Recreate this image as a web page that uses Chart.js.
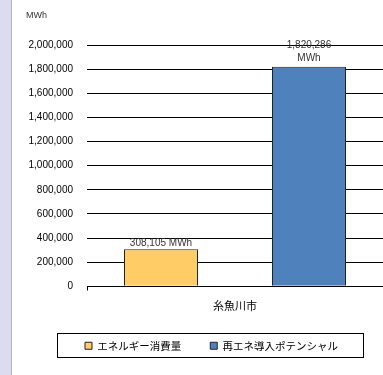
<!DOCTYPE html>
<html>
<head>
<meta charset="utf-8">
<script src="https://cdn.jsdelivr.net/npm/chart.js@4.4.1/dist/chart.umd.min.js"></script>
<style>
    html, body { margin: 0; padding: 0; }
    body {
        width: 383px; height: 375px; overflow: hidden;
        background: linear-gradient(to right, #dcdcf0 0px, #dcdcf0 11px, #b4b4c8 11px, #b4b4c8 12px, #ffffff 12px);
    }
    #wrap { position: absolute; left: 0; top: 0; width: 383px; height: 375px; }
</style>
</head>
<body>
<div id="wrap"><canvas id="myChart" width="383" height="375"></canvas></div>
<script>
const categories = ['糸魚川市'];
const seriesNames = ['エネルギー消費量', '再エネ導入ポテンシャル'];
const energyUse = [308105];
const renewablePotential = [1820286];
const yTicks = [0, 200000, 400000, 600000, 800000, 1000000, 1200000, 1400000, 1600000, 1800000, 2000000];

const font = '"Liberation Sans", "Noto Sans CJK JP", sans-serif';
const jpFont = '"Noto Sans CJK JP", "Liberation Sans", sans-serif';
const legendGap = 29;

// 値ラベル（棒の上）と単位、凡例の枠
const extras = {
    id: 'extras',
    afterLayout(chart) {
        // 凡例の位置調整（右へ寄せ、項目間の余白分だけ上へ）
        const lg = chart.legend;
        lg.left += 14;
        lg.right += 14;
        lg.top -= 14;
        lg.bottom -= 14;
    },
    afterDatasetsDraw(chart) {
        const ctx = chart.ctx;
        ctx.save();
        ctx.fillStyle = '#333';
        ctx.textAlign = 'center';
        ctx.textBaseline = 'bottom';
        ctx.font = '10px ' + font;
        const b0 = chart.getDatasetMeta(0).data[0];
        ctx.fillText(energyUse[0].toLocaleString('en-US') + ' MWh', b0.x, b0.y - 1);
        const b1 = chart.getDatasetMeta(1).data[0];
        ctx.fillText(renewablePotential[0].toLocaleString('en-US'), b1.x, b1.y - 16);
        ctx.fillText('MWh', b1.x, b1.y - 3);

        // 単位
        ctx.textAlign = 'left';
        ctx.textBaseline = 'middle';
        ctx.font = '9px ' + font;
        ctx.fillText('MWh', 26, 16);

        // 原点の小さな目盛り
        const x = chart.scales.x, y = chart.scales.y;
        const y0 = Math.round(y.getPixelForValue(0)) + 0.5;
        ctx.strokeStyle = '#000';
        ctx.beginPath();
        ctx.moveTo(Math.round(x.left) + 0.5, y0);
        ctx.lineTo(Math.round(x.left) + 0.5, y0 + 4);
        ctx.stroke();
        ctx.restore();
    },
    afterDraw(chart) {
        const ctx = chart.ctx;
        ctx.save();
        ctx.strokeStyle = '#000';
        ctx.lineWidth = 1;
        ctx.strokeRect(57.5, 333.5, 306, 24);
        ctx.restore();
    }
};

const ctx = document.getElementById('myChart').getContext('2d');
window.chart = new Chart(ctx, {
    type: 'bar',
    data: {
        labels: categories,
        datasets: [{
            label: seriesNames[0],
            data: energyUse,
            backgroundColor: '#ffcc66',
            borderColor: '#222',
            borderWidth: 1,
            categoryPercentage: 1,
            barPercentage: 0.5
        }, {
            label: seriesNames[1],
            data: renewablePotential,
            backgroundColor: '#4f81bd',
            borderColor: '#222',
            borderWidth: 1,
            categoryPercentage: 1,
            barPercentage: 0.5
        }]
    },
    options: {
        responsive: false,
        animation: false,
        layout: { padding: { left: 12, right: 0, top: 45, bottom: 0 } },
        plugins: {
            tooltip: { enabled: false },
            legend: {
                position: 'bottom',
                labels: {
                    font: { family: jpFont, size: 10.5 },
                    color: '#000',
                    boxWidth: 7,
                    boxHeight: 7,
                    padding: legendGap,
                    generateLabels(chart) {
                        return chart.data.datasets.map((d, i) => ({
                            text: d.label,
                            fillStyle: d.backgroundColor,
                            strokeStyle: '#222',
                            lineWidth: 1,
                            datasetIndex: i
                        }));
                    }
                }
            }
        },
        scales: {
            x: {
                grid: { display: false, drawTicks: false },
                border: { color: '#000', width: 1 },
                ticks: {
                    padding: 13,
                    color: '#000',
                    font: { family: jpFont, size: 11 }
                }
            },
            y: {
                min: 0,
                max: 2000000,
                afterFit(scale) { scale.width = 75; },
                afterBuildTicks(scale) { scale.ticks = yTicks.map(v => ({ value: v })); },
                grid: { color: '#000', lineWidth: 1, drawTicks: false },
                border: { display: false },
                ticks: {
                    padding: 14,
                    color: '#000',
                    font: { family: font, size: 10 },
                    callback: (v) => v.toLocaleString('en-US')
                }
            }
        }
    },
    plugins: [extras]
});
</script>
</body>
</html>
